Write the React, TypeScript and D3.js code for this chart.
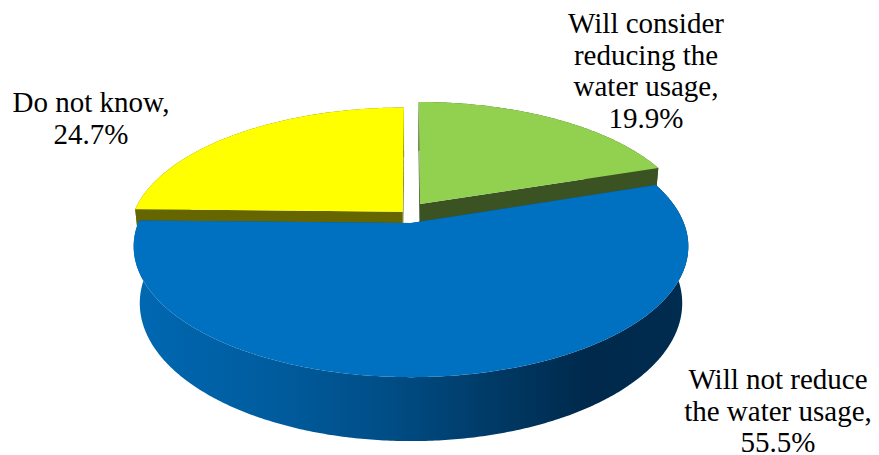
import React, { useEffect, useRef } from 'react';
import * as d3 from 'd3';

// ---- data ----
const categories = [
  'Will consider reducing the water usage',
  'Will not reduce the water usage',
  'Do not know',
];
const values = [19.9, 55.5, 24.7];
const labelLines = [
  ['Will consider', 'reducing the', 'water usage,', '19.9%'],
  ['Will not reduce', 'the water usage,', '55.5%'],
  ['Do not know,', '24.7%'],
];

// ---- layout / style ----
const W = 879;
const H = 455;
const CX = 411;
const CY = 213;
const F = 269;
const PHI = Math.asin(123 / 269);
const K = 0.1985;
const DEPTH = 0.237;
const OFFSETS: [number, number][] = [
  [0.034, 0.0741],
  [0, -0.08],
  [-0.031, 0.0106],
];
const TOP = ['#92D050', '#0070C0', '#FFFF00'];
const SIDE = ['#3B5323', 'url(#blueWall)', '#666600'];
const FACE = ['#3B5323', '#00508A', '#666600'];
const LABEL_POS = [
  { x: 646, y: 33 },
  { x: 778, y: 389 },
  { x: 91, y: 112 },
];
const LINE_H = 31.5;
const PAINT_ORDER = [2, 0, 1];
const FONT = "'Liberation Serif', monospace";

function project(X: number, Y: number, Z: number): [number, number] {
  const c = Math.cos(PHI);
  const s = Math.sin(PHI);
  const vy = Y * c + Z * s;
  const vz = 1 + K * (Z * c - Y * s);
  return [CX + (F * X) / vz, CY - (F * vy) / vz];
}

const line = d3.line<[number, number]>().x((d) => d[0]).y((d) => d[1]);

export default function App() {
  const gRef = useRef<SVGGElement | null>(null);

  useEffect(() => {
    if (!gRef.current) return;
    const g = d3.select(gRef.current);
    g.selectAll('*').remove();
    labelLines.forEach((lines, i) => {
      lines.forEach((t, j) => {
        g.append('text')
          .attr('x', LABEL_POS[i].x)
          .attr('y', LABEL_POS[i].y + j * LINE_H)
          .attr('text-anchor', 'middle')
          .attr('fill', '#000')
          .style('font-family', FONT)
          .style('font-size', '29px')
          .text(t);
      });
    });
  }, []);

  const arcs = d3
    .pie<number>()
    .sort(null)
    .startAngle(0)
    .endAngle(2 * Math.PI)(values);

  const shapes = PAINT_ORDER.map((i) => {
    const a = arcs[i];
    const [ox, oz] = OFFSETS[i];
    const n = Math.max(2, Math.ceil((a.endAngle - a.startAngle) / 0.01) + 1);
    const angles = d3.range(n).map((j) => a.startAngle + ((a.endAngle - a.startAngle) * j) / (n - 1));
    const rim = (t: number, y: number) => project(ox + Math.sin(t), y, oz + Math.cos(t));
    const topRim = angles.map((t) => rim(t, 0));
    const botRim = angles.map((t) => rim(t, -DEPTH)).reverse();
    const apexT = project(ox, 0, oz);
    const apexB = project(ox, -DEPTH, oz);
    const topPath = line([apexT, ...topRim])! + 'Z';
    const wallPath = line([...topRim, ...botRim])! + 'Z';
    const faces = [a.startAngle, a.endAngle].map(
      (t) => line([apexT, rim(t, 0), rim(t, -DEPTH), apexB])! + 'Z'
    );
    return (
      <g key={categories[i]}>
        <path d={wallPath} fill={SIDE[i]} />
        {faces.map((d, k) => (
          <path key={k} d={d} fill={FACE[i]} />
        ))}
        <path d={topPath} fill={TOP[i]} />
      </g>
    );
  });

  return (
    <svg width={W} height={H} style={{ display: 'block', margin: '-8px 0 0 -8px' }}>
      <defs>
        <linearGradient id="blueWall" gradientUnits="userSpaceOnUse" x1={135} x2={687} y1={0} y2={0}>
          <stop offset="0" stopColor="#0068B2" />
          <stop offset="0.25" stopColor="#005C9E" />
          <stop offset="0.45" stopColor="#004E87" />
          <stop offset="0.65" stopColor="#003A66" />
          <stop offset="0.82" stopColor="#00294B" />
          <stop offset="1" stopColor="#002C50" />
        </linearGradient>
      </defs>
      {shapes}
      <g ref={gRef} />
    </svg>
  );
}
